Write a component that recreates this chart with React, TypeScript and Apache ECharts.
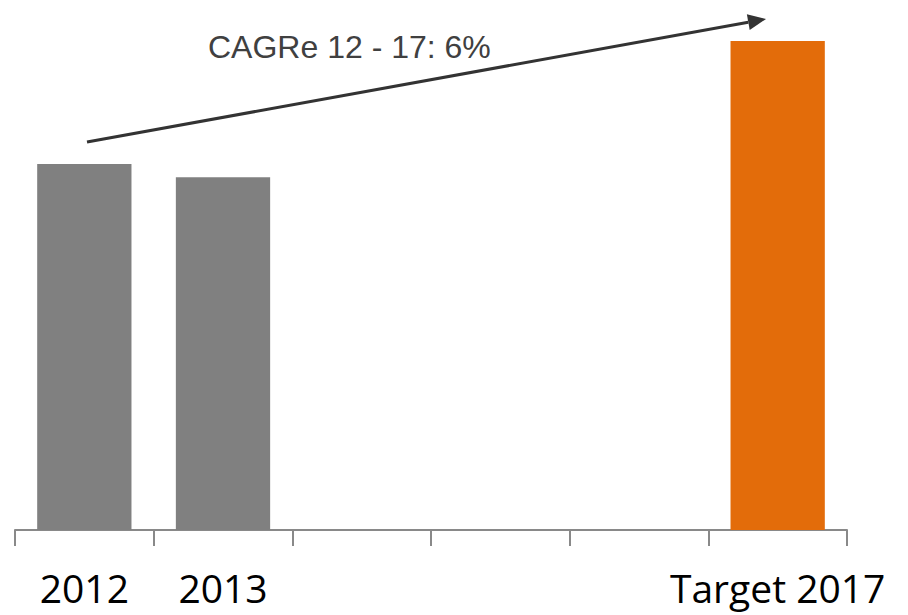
import React, { useEffect, useRef } from "react";
import * as echarts from "echarts";

const categories = ["2012", "2013", "", "", "", "Target 2017"];
const values: (number | null)[] = [100, 96.4, null, null, null, 133.6];
const barColors = ["#808080", "#808080", "#808080", "#808080", "#808080", "#E36C0A"];
const cagrLabel = "CAGRe 12 - 17: 6%";

export default function App() {
  const ref = useRef<HTMLDivElement>(null);
  useEffect(() => {
    if (!ref.current) return;
    const chart = echarts.init(ref.current, undefined, { renderer: "svg" });
    // arrow geometry
    const x1 = 87, y1 = 142, tx = 766, ty = 19;
    const dx = tx - x1, dy = ty - y1;
    const len = Math.sqrt(dx * dx + dy * dy);
    const ux = dx / len, uy = dy / len;
    const hl = 18, hw = 8;
    const bx = tx - ux * hl, by = ty - uy * hl;
    const px = -uy, py = ux;
    chart.setOption({
      animation: false,
      backgroundColor: "#ffffff",
      grid: { left: 15, right: 61, top: 17.6, bottom: 85, containLabel: false },
      xAxis: {
        type: "category",
        data: categories,
        boundaryGap: true,
        axisLine: { show: true, lineStyle: { color: "#898989", width: 2 } },
        axisTick: { show: true, length: 16, interval: 0, lineStyle: { color: "#898989", width: 2 } },
        axisLabel: {
          interval: 0,
          margin: 38,
          fontSize: 39,
          fontFamily: "Open Sans",
          color: "#000000",
        },
      },
      yAxis: {
        type: "value",
        min: 0,
        max: 140,
        show: false,
        splitLine: { show: false },
      },
      series: [
        {
          type: "bar",
          barWidth: "68%",
          data: values.map((v, i) => ({ value: v, itemStyle: { color: barColors[i] } })),
        },
      ],
      graphic: [
        {
          type: "line",
          shape: { x1, y1, x2: bx, y2: by },
          style: { stroke: "#333333", lineWidth: 3 },
        },
        {
          type: "polygon",
          shape: {
            points: [
              [tx, ty],
              [bx + px * hw, by + py * hw],
              [bx - px * hw, by - py * hw],
            ],
          },
          style: { fill: "#333333" },
        },
        {
          type: "text",
          left: 208,
          top: 31,
          style: {
            text: cagrLabel,
            fontSize: 32,
            fontFamily: "Liberation Sans",
            fill: "#404040",
          },
        },
      ],
    });
    return () => chart.dispose();
  }, []);
  return (
    <div
      ref={ref}
      style={{ position: "absolute", left: 0, top: 0, width: 908, height: 615 }}
    />
  );
}
